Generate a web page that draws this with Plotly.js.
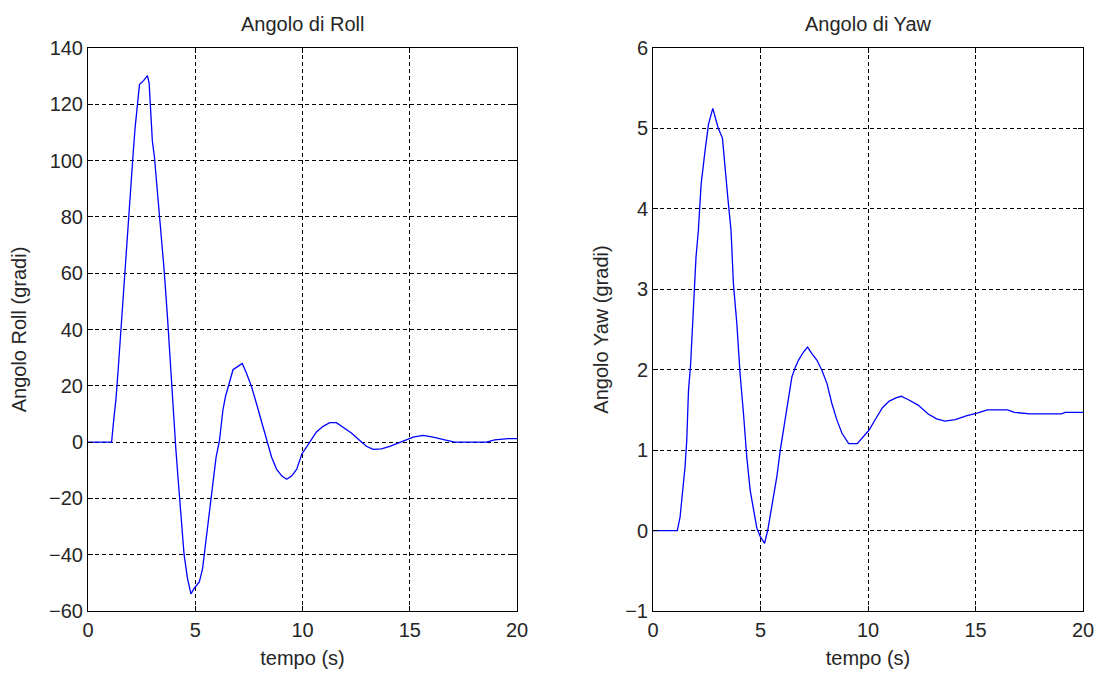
<!DOCTYPE html>
<html>
<head>
<meta charset="utf-8">
<script src="https://cdn.plot.ly/plotly-3.0.1.min.js"></script>
<style>html,body{margin:0;padding:0;background:#fff;}#chart{width:1099px;height:673px;}</style>
</head>
<body>
<div id="chart"></div>
<script>
// Roll angle (degrees) vs time (s)
const rollTime = [0, 1.1, 1.2, 1.3, 1.4, 1.5, 1.6, 1.7, 1.8, 1.9, 2.0, 2.1, 2.2, 2.3, 2.4, 2.6, 2.77, 2.85, 2.93, 3.0, 3.1, 3.25, 3.4, 3.55, 3.7, 3.8, 3.9, 4.0, 4.1, 4.2, 4.33, 4.48, 4.64, 4.8, 4.95, 5.19, 5.34, 5.5, 5.74, 5.97, 6.13, 6.29, 6.41, 6.57, 6.76, 6.99, 7.19, 7.38, 7.62, 7.85, 8.09, 8.32, 8.56, 8.79, 9.03, 9.26, 9.5, 9.73, 9.97, 10.2, 10.44, 10.65, 10.96, 11.27, 11.58, 11.89, 12.28, 12.67, 12.98, 13.29, 13.68, 14.07, 14.38, 14.77, 15.16, 15.62, 16.09, 16.63, 17.1, 18.57, 18.96, 19.58, 20];
const rollDeg = [0, 0, 8, 15, 25, 36, 48, 61, 72, 83, 93, 102, 112, 120, 127, 128.5, 130.2, 127.5, 116, 107, 101, 88, 76, 61, 45, 32, 20, 6, -3, -13, -25, -40, -48.5, -53.9, -52, -49.7, -45, -35.3, -21, -5.4, 0.6, 11.4, 16.2, 21, 25.7, 26.9, 27.9, 24.6, 19.8, 13.8, 7.2, 0.6, -5.4, -9.6, -12, -13.2, -12, -9.6, -4.2, -1.6, 1.2, 3.6, 5.6, 6.9, 6.9, 5.4, 3.2, 0.6, -1.5, -2.6, -2.4, -1.5, -0.6, 0.8, 1.8, 2.4, 1.8, 0.8, 0, 0, 0.8, 1.2, 1.2];

// Yaw angle (degrees) vs time (s)
const yawTime = [0, 1.13, 1.26, 1.38, 1.49, 1.57, 1.65, 1.75, 1.88, 2.0, 2.11, 2.24, 2.42, 2.58, 2.78, 2.89, 3.04, 3.23, 3.35, 3.48, 3.63, 3.74, 3.9, 4.05, 4.21, 4.36, 4.52, 4.67, 4.83, 4.98, 5.19, 5.34, 5.53, 5.76, 5.92, 6.15, 6.3, 6.46, 6.62, 6.77, 7.0, 7.19, 7.39, 7.62, 7.86, 8.09, 8.32, 8.56, 8.79, 9.1, 9.5, 9.81, 10.05, 10.36, 10.68, 10.99, 11.3, 11.54, 11.86, 12.33, 12.8, 13.19, 13.58, 14.06, 14.6, 15.08, 15.55, 16.49, 16.81, 17.52, 19.0, 19.17, 20];
const yawDeg = [0, 0, 0.17, 0.5, 0.79, 1.12, 1.74, 2.07, 2.74, 3.4, 3.73, 4.31, 4.72, 5.05, 5.25, 5.15, 5.0, 4.88, 4.49, 4.14, 3.73, 3.07, 2.57, 1.95, 1.45, 0.92, 0.5, 0.26, 0.03, -0.07, -0.16, 0.01, 0.3, 0.67, 1.0, 1.41, 1.66, 1.91, 2.03, 2.12, 2.22, 2.28, 2.2, 2.12, 1.99, 1.83, 1.58, 1.37, 1.21, 1.08, 1.08, 1.17, 1.25, 1.39, 1.53, 1.61, 1.65, 1.67, 1.63, 1.56, 1.45, 1.39, 1.36, 1.38, 1.43, 1.46, 1.5, 1.5, 1.47, 1.45, 1.45, 1.47, 1.47];

const titles = ["Angolo di Roll", "Angolo di Yaw"];
const yTitles = ["Angolo Roll (gradi)", "Angolo Yaw (gradi)"];
const xTitle = "tempo (s)";
const xTicks = [0, 5, 10, 15, 20];
const rollTicks = [-60, -40, -20, 0, 20, 40, 60, 80, 100, 120, 140];
const yawTicks = [-1, 0, 1, 2, 3, 4, 5, 6];

const FONT = "Liberation Sans, Arial, sans-serif";
const FS = 20;
const TXT = "#262626";
const lineStyle = {color: "#0000ff", width: 1.3};

const traces = [
  {x: rollTime, y: rollDeg, type: "scatter", mode: "lines", line: lineStyle, xaxis: "x", yaxis: "y", hoverinfo: "x+y"},
  {x: yawTime, y: yawDeg, type: "scatter", mode: "lines", line: lineStyle, xaxis: "x2", yaxis: "y2", hoverinfo: "x+y"}
];

function axisBase() {
  return {
    showline: true, linecolor: "#000", linewidth: 1, mirror: "ticks",
    ticks: "inside", ticklen: 5, tickcolor: "#000", tickwidth: 1,
    showgrid: true, gridcolor: "#000", gridwidth: 1, griddash: "4px,3px",
    zeroline: false, tickfont: {family: FONT, size: FS, color: TXT},
    fixedrange: true
  };
}

const yDom = [(673 - 611) / 673, (673 - 48) / 673];
const tf = {family: FONT, size: FS, color: TXT};

const layout = {
  width: 1099, height: 673,
  margin: {l: 0, r: 0, t: 0, b: 0},
  paper_bgcolor: "#fff", plot_bgcolor: "#fff",
  showlegend: false,
  font: tf,
  xaxis: Object.assign(axisBase(), {domain: [88 / 1099, 517 / 1099], range: [0, 20], tickvals: xTicks, anchor: "y",
    ticklabelstandoff: 1, title: {text: xTitle, font: tf, standoff: 10}}),
  yaxis: Object.assign(axisBase(), {domain: yDom, range: [-60, 140], tickvals: rollTicks, anchor: "x",
    ticklabelstandoff: 0, title: {text: yTitles[0], font: tf, standoff: 17}}),
  xaxis2: Object.assign(axisBase(), {domain: [653 / 1099, 1083 / 1099], range: [0, 20], tickvals: xTicks, anchor: "y2",
    ticklabelstandoff: 1, title: {text: xTitle, font: tf, standoff: 10}}),
  yaxis2: Object.assign(axisBase(), {domain: yDom, range: [-1, 6], tickvals: yawTicks, anchor: "x2",
    ticklabelstandoff: 0, title: {text: yTitles[1], font: tf, standoff: 11}}),
  annotations: [
    {text: titles[0], xref: "paper", yref: "paper", x: (88 + 517) / 2 / 1099, y: (673 - 24) / 673, xanchor: "center", yanchor: "middle", showarrow: false, font: tf},
    {text: titles[1], xref: "paper", yref: "paper", x: (653 + 1083) / 2 / 1099, y: (673 - 24) / 673, xanchor: "center", yanchor: "middle", showarrow: false, font: tf}
  ]
};

Plotly.newPlot("chart", traces, layout, {displayModeBar: false});
</script>
</body>
</html>
